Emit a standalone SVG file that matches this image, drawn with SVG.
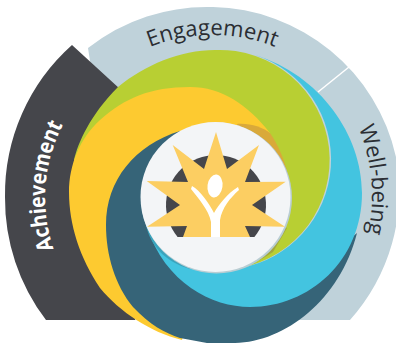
<svg xmlns="http://www.w3.org/2000/svg" width="396" height="343" viewBox="0 0 396 343">
<style>
.lbl{font-family:"Open Sans","Noto Sans",sans-serif;font-size:22px;fill:#2b2e33}
.ach{font-weight:700;fill:#fff;font-size:22px}
</style>
<defs>
<path id="pE" d="M93,84.500 A169,169 0 0 1 332,84.500" fill="none"/>
<path id="pW" d="M331.800,84.400 A172,172 0 0 1 349,281" fill="none"/>
<path id="pA" d="M82,300 A160,160 0 0 1 97,80" fill="none"/>
</defs>
<rect width="396" height="343" fill="#fff"/>
<g id="engagement-wellbeing-band">
<path d="M88,48 A192,192 0 0 1 213,7 A192,192 0 0 1 396,157 A192,192 0 0 1 350,320 L130,320 Z" fill="#bfd2da"/>
<path d="M318,92 L349,67" stroke="#fff" stroke-width="1.5" fill="none"/>
</g>
<g id="achievement-band">
<path d="M72,45 L120,89 L135,320 L46,320 A200,200 0 0 1 5,197 A200,200 0 0 1 72,45 Z" fill="#45464b"/>
</g>
<g id="green-swirl">
<path d="M74,160 C78,143 90,115 118,87 C145,65 180,50 215,50 A110,110 0 0 1 240,268 L215,197 Z" fill="#b8cf33"/>
</g>
<g id="yellow-swirl">
<path d="M270,133 C248,105 222,87 190,87 C150,87 125,98 100,120 C80,138 69,165 69,192 C69,225 80,258 100,288 C120,312 150,332 182,340 L215,197 Z" fill="#fdca30"/>
<path d="M237,124 C250,123 262,127 270,133 C278,145 284,158 288,175 L250,170 Z" fill="#d9a93a"/>
</g>
<g id="teal-swirl">
<path d="M180,131 C135,145 106,180 106,225 C106,255 115,285 133,307 C150,325 165,333 180,338 L207,343 L235,343 C285,342 340,300 357,233 L300,280 L240,280 L215,197 Z" fill="#366478"/>
</g>
<g id="cyan-swirl">
<path d="M255,55 C320,75 362,135 362,193 C362,260 310,307 250,307 C212,307 165,283 147,227 L215,197 L240,268 A110,110 0 0 0 255,55 Z" fill="#43c4e0"/>
<path d="M146,225 C150,245 165,262 190,269 L215,197 Z" fill="#3ba4bd"/>
<path d="M287,228 L273,252 C260,260 250,266 237,270 L215,197 Z" fill="#a3a83c"/>
</g>
<g id="center">
<circle cx="216.500" cy="198" r="75.500" fill="#b9cdd3"/>
<circle cx="215.500" cy="197" r="75" fill="#f3f5f7"/>
<path d="M177.600,237 A50,50 0 1 1 254.400,237 Z" fill="#45464b"/>
<path d="M216,132 L227,169 L259,145 L245,182 L285.700,181.700 L252,205 L285,226.700 L245,226 L250,237 L183,237 L187,226 L147,226.700 L180,205 L146.700,181 L188,182 L172.700,145 L204,169 Z" fill="#fcce62"/>
<ellipse cx="215" cy="186" rx="7.500" ry="11.500" fill="#fff" transform="rotate(8 215 186)"/>
<path d="M192,186 C200,190 210,205 214,213 C219,204 228,193 238,187 L239,190 C230,198 222,208 220,220 L220,237 L211,237 L211,222 C209,210 198,198 191,189 Z" fill="#fff"/>
</g>
<g id="labels">
<text class="lbl"><textPath href="#pE" startOffset="50%" text-anchor="middle">Engagement</textPath></text>
<text class="lbl"><textPath href="#pW" startOffset="50%" text-anchor="middle">Well-being</textPath></text>
<text class="lbl ach"><textPath href="#pA" startOffset="50.500%" text-anchor="middle" textLength="128" lengthAdjust="spacingAndGlyphs">Achievement</textPath></text>
</g>
</svg>
